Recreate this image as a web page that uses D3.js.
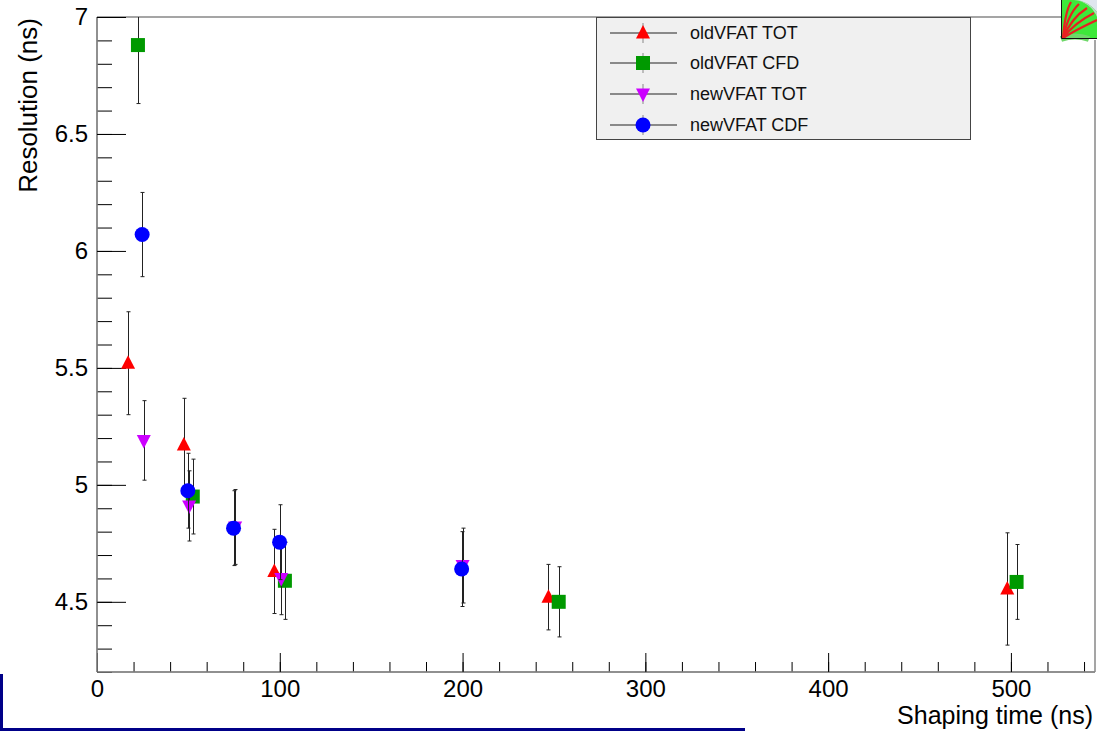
<html>
<head>
<style>
body {
  margin: 0;
  background: #fff;
  font-family: "Liberation Sans", Arial, Helvetica, sans-serif;
}
.axis text {
  font-family: "Liberation Sans", Arial, Helvetica, sans-serif;
  font-size: 24px;
  fill: #000;
}
.axis .tick line { stroke: #000; }
.axis path.domain { stroke: #888; stroke-width: 1.5px; }
.err { stroke: #222; stroke-width: 1px; }
.legend text { font-size: 18px; fill: #111; }
</style>
</head>
<body>
<div class="chart"></div>
<script src="https://d3js.org/d3.v7.min.js"></script>
<script>
// data
var seriesNames = ["oldVFAT TOT", "oldVFAT CFD", "newVFAT TOT", "newVFAT CDF"];
var seriesColors = ["#ff0000", "#009900", "#cc00ff", "#0000ff"];
var seriesShapes = ["up", "square", "down", "circle"];

var oldTotX = [17, 47.5, 97, 247, 498];
var oldTotY = [5.52, 5.17, 4.63, 4.52, 4.555];
var oldTotErr = [0.22, 0.20, 0.18, 0.14, 0.24];

var oldCfdX = [22.4, 52.4, 102.8, 252.6, 503.1];
var oldCfdY = [6.88, 4.95, 4.59, 4.50, 4.585];
var oldCfdErr = [0.25, 0.16, 0.165, 0.15, 0.16];

var newTotX = [25.6, 50.4, 75.6, 100.8, 200];
var newTotY = [5.19, 4.91, 4.82, 4.60, 4.655];
var newTotErr = [0.17, 0.15, 0.16, 0.155, 0.16];

var newCdfX = [24.7, 49.7, 74.7, 99.9, 199.5];
var newCdfY = [6.07, 4.975, 4.815, 4.755, 4.64];
var newCdfErr = [0.18, 0.16, 0.16, 0.16, 0.16];

var xMajor = [0, 100, 200, 300, 400, 500];
var yMajor = [4.5, 5, 5.5, 6, 6.5, 7];

var W = 1097, H = 731;
var plot = {left: 97, right: 1095, top: 17, bottom: 672};

var svg = d3.select(".chart").append("svg")
    .attr("width", W)
    .attr("height", H);

var x = d3.scaleLinear().domain([0, 546]).range([plot.left, plot.right]);
var y = d3.scaleLinear().domain([4.2, 7]).range([plot.bottom, plot.top]);

var xMinor = d3.range(0, 546, 20);
var yMinor = d3.range(42, 71).map(function(v){ return v / 10; });

// frame (top + right)
svg.append("path")
    .attr("d", "M" + plot.left + "," + plot.top + "H1061M" + plot.right + ",40V" + plot.bottom)
    .attr("fill", "none")
    .attr("stroke", "#888")
    .attr("stroke-width", 1.5);

// minor ticks
svg.append("g")
    .attr("class", "axis")
    .attr("transform", "translate(0," + plot.bottom + ")")
    .call(d3.axisBottom(x).tickValues(xMinor).tickSize(-10).tickSizeOuter(0).tickFormat(""));
svg.append("g")
    .attr("class", "axis")
    .attr("transform", "translate(" + plot.left + ",0)")
    .call(d3.axisLeft(y).tickValues(yMinor).tickSize(-15).tickSizeOuter(0).tickFormat(""));

// major ticks with labels
svg.append("g")
    .attr("class", "axis")
    .attr("transform", "translate(0," + plot.bottom + ")")
    .call(d3.axisBottom(x).tickValues(xMajor).tickSize(-19).tickSizeOuter(0).tickPadding(8).tickFormat(d3.format("d")));
svg.append("g")
    .attr("class", "axis")
    .attr("transform", "translate(" + plot.left + ",0)")
    .call(d3.axisLeft(y).tickValues(yMajor).tickSize(-29).tickSizeOuter(0).tickPadding(9).tickFormat(function(d){ return d; }));

svg.selectAll(".axis path.domain").attr("d", function(){
  return d3.select(this.parentNode).attr("transform").indexOf("," + plot.bottom) > 0
    ? "M" + plot.left + ",0H" + plot.right
    : "M0," + plot.top + "V" + plot.bottom;
});

// axis titles
svg.append("text")
    .attr("x", 1093)
    .attr("y", 724)
    .attr("text-anchor", "end")
    .style("font-size", "25px")
    .text("Shaping time (ns)");
svg.append("text")
    .attr("transform", "translate(37,18) rotate(-90)")
    .attr("text-anchor", "end")
    .style("font-size", "26px")
    .text("Resolution (ns)");

function marker(sel, shape, color) {
  if (shape == "circle") {
    sel.append("circle").attr("r", 7.5).attr("fill", color);
  } else if (shape == "square") {
    sel.append("rect").attr("x", -7).attr("y", -7).attr("width", 14).attr("height", 14).attr("fill", color);
  } else if (shape == "up") {
    sel.append("path").attr("d", "M0,-8L7,5.5L-7,5.5Z").attr("fill", color);
  } else {
    sel.append("path").attr("d", "M0,8L7,-5.5L-7,-5.5Z").attr("fill", color);
  }
}

var series = [
  {xs: oldTotX, ys: oldTotY, es: oldTotErr},
  {xs: oldCfdX, ys: oldCfdY, es: oldCfdErr},
  {xs: newTotX, ys: newTotY, es: newTotErr},
  {xs: newCdfX, ys: newCdfY, es: newCdfErr}
];

series.forEach(function(s, k){
  var pts = s.xs.map(function(v, i){ return {x: v, y: s.ys[i], e: s.es[i]}; });
  var g = svg.append("g");

  g.selectAll(".errbar")
      .data(pts)
    .enter().append("path")
      .attr("class", "err")
      .attr("fill", "none")
      .attr("d", function(d){
        var px = Math.round(x(d.x)) + 0.5;
        var top = Math.max(y(d.y + d.e), plot.top);
        var bot = y(d.y - d.e);
        var p = "M" + px + "," + top + "V" + bot + "M" + (px - 2) + "," + bot + "H" + (px + 2);
        if (y(d.y + d.e) >= plot.top) p += "M" + (px - 2) + "," + top + "H" + (px + 2);
        return p;
      });

  g.selectAll(".pt")
      .data(pts)
    .enter().append("g")
      .attr("transform", function(d){ return "translate(" + x(d.x) + "," + y(d.y) + ")"; })
      .each(function(){ marker(d3.select(this), seriesShapes[k], seriesColors[k]); });
});

// legend
var lg = svg.append("g").attr("class", "legend");
lg.append("rect")
    .attr("x", 596.5).attr("y", 17.5)
    .attr("width", 374).attr("height", 122)
    .attr("fill", "#f0f0f0")
    .attr("stroke", "#444");

var legY = [33, 63, 94, 125];
seriesNames.forEach(function(name, k){
  var row = lg.append("g").attr("transform", "translate(643," + legY[k] + ")");
  row.append("line").attr("x1", -33).attr("x2", 34).attr("stroke", "#222");
  row.append("line").attr("y1", -10).attr("y2", 10).attr("stroke", "#888");
  marker(row, seriesShapes[k], seriesColors[k]);
  row.append("text").attr("x", 47).attr("dy", "0.35em").text(name);
});

// ROOT logo in the corner
var logo = svg.append("g").attr("transform", "translate(1061,0)");
logo.append("rect").attr("width", 36).attr("height", 39).attr("fill", "#3ee83a");
logo.append("path").attr("d", "M6,0A32,32 0 0 1 36,12V0Z").attr("fill", "#dfe6ee");
logo.append("path").attr("d", "M13,0A27,27 0 0 1 36,17V12A32,32 0 0 0 6,0Z").attr("fill", "#b8d8c0");
logo.append("path").attr("d", "M0,39A40,40 0 0 1 28,39").attr("fill", "none").attr("stroke", "#6fd86a").attr("stroke-width", 6);
[[10, 2], [18, 4], [26, 8], [33, 13], [36, 20]].forEach(function(c){
  logo.append("path")
      .attr("d", "M2,38Q" + (c[0] * 0.4) + "," + (c[1] + 10) + " " + c[0] + "," + c[1])
      .attr("fill", "none").attr("stroke", "#e82020").attr("stroke-width", 2.2);
});
logo.append("path").attr("d", "M0.5,0V38.5H36").attr("fill", "none").attr("stroke", "#111").attr("stroke-width", 1);

// navy lines at bottom-left of the capture
svg.append("path")
    .attr("d", "M1.5,674V731M0,729.5H745")
    .attr("fill", "none")
    .attr("stroke", "#000088")
    .attr("stroke-width", 3);
</script>
</body>
</html>
